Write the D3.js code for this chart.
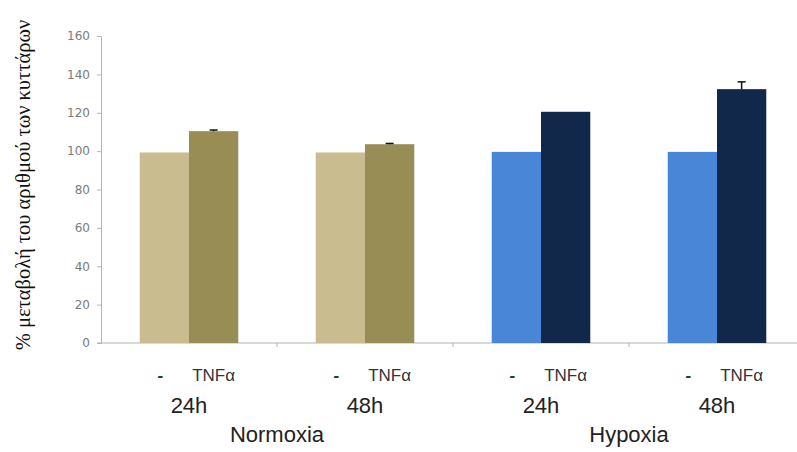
<!DOCTYPE html>
<html>
<head>
<meta charset="utf-8">
<script src="https://cdn.jsdelivr.net/npm/d3@7"></script>
<style>
  body { margin: 0; background: #fff; }
  svg { display: block; }
</style>
</head>
<body>
<svg id="chart" width="797" height="452"></svg>
<script>
// data
var categories = ['N24', 'N48', 'H24', 'H48'];
var timeLabels = ['24h', '48h', '24h', '48h'];
var groupLabels = ['Normoxia', 'Hypoxia'];
var groupOf = [0, 0, 1, 1];
var treatments = ['-', 'TNFα'];
var controlValues = [99.3, 99.3, 99.6, 99.6];
var tnfValues = [110.4, 103.6, 120.5, 132.3];
var tnfErrors = [0.6, 0.4, 0, 3.8];
var yTicks = [0, 20, 40, 60, 80, 100, 120, 140, 160];

var barColors = [
  ['#c9bd8f', '#988e55'],   // normoxia: control, TNFa
  ['#4a86d8', '#12284a']    // hypoxia
];

var svg = d3.select('#chart');

var y = d3.scaleLinear().domain([0, 160]).range([343, 36]);
var x = d3.scaleBand().domain(categories).range([101, 805])
    .paddingInner(0.44).paddingOuter(0.22);
var x1 = d3.scaleBand().domain(treatments).range([0, x.bandwidth()]);

/* y axis */
var yAxis = d3.axisLeft(y).tickValues(yTicks).tickSize(4).tickPadding(7);
var yg = svg.append('g').attr('transform', 'translate(101,0)').call(yAxis);
yg.select('.domain').attr('stroke', '#b4b4b4');
yg.selectAll('.tick line').attr('stroke', '#b4b4b4');
yg.selectAll('.tick text')
    .attr('fill', '#7a7a7a')
    .style('font-family', 'DejaVu Sans')
    .style('font-size', '12px');

/* x axis line + category separators */
svg.append('line')
    .attr('x1', 97).attr('x2', 797)
    .attr('y1', y(0)).attr('y2', y(0))
    .attr('stroke', '#b4b4b4');
svg.selectAll('.sep')
    .data(categories.slice(1)).enter()
    .append('line')
    .attr('x1', function(d) { return x(d) - x.step() * x.paddingInner() / 2; })
    .attr('x2', function(d) { return x(d) - x.step() * x.paddingInner() / 2; })
    .attr('y1', y(0)).attr('y2', y(0) + 4)
    .attr('stroke', '#b4b4b4');

/* bars */
var rows = categories.map(function(c, i) {
  return [
    { cat: c, t: treatments[0], v: controlValues[i], g: groupOf[i], k: 0 },
    { cat: c, t: treatments[1], v: tnfValues[i], g: groupOf[i], k: 1, err: tnfErrors[i] }
  ];
});

var cat = svg.selectAll('.cat')
    .data(rows).enter()
    .append('g')
    .attr('transform', function(d, i) { return 'translate(' + x(categories[i]) + ',0)'; });

cat.selectAll('rect')
    .data(function(d) { return d; }).enter()
    .append('rect')
    .attr('x', function(d) { return x1(d.t); })
    .attr('width', x1.bandwidth())
    .attr('y', function(d) { return y(d.v); })
    .attr('height', function(d) { return y(0) - y(d.v); })
    .attr('fill', function(d) { return barColors[d.g][d.k]; });

// error bars, upper half only
var eb = cat.selectAll('.err')
    .data(function(d) { return d.filter(function(e) { return e.err; }); }).enter()
    .append('g')
    .attr('stroke', '#111')
    .attr('stroke-width', 1.5);
eb.append('line')
    .attr('x1', function(d) { return x1(d.t) + x1.bandwidth() / 2; })
    .attr('x2', function(d) { return x1(d.t) + x1.bandwidth() / 2; })
    .attr('y1', function(d) { return y(d.v); })
    .attr('y2', function(d) { return y(d.v + d.err); });
eb.append('line')
    .attr('x1', function(d) { return x1(d.t) + x1.bandwidth() / 2 - 4; })
    .attr('x2', function(d) { return x1(d.t) + x1.bandwidth() / 2 + 4; })
    .attr('y1', function(d) { return y(d.v + d.err); })
    .attr('y2', function(d) { return y(d.v + d.err); });

/* labels under the axis */
var labelFont = '"Liberation Sans", Arial, sans-serif';
cat.selectAll('.trt')
    .data(function(d) { return d; }).enter()
    .append('text')
    .attr('x', function(d) { return x1(d.t) + x1.bandwidth() / 2 + (d.k == 0 ? -4 : 0); })
    .attr('y', 381)
    .attr('text-anchor', 'middle')
    .attr('fill', '#333')
    .style('font-family', labelFont)
    .style('font-size', '17px')
    .style('font-weight', function(d) { return d.k == 0 ? 'bold' : 'normal'; })
    .text(function(d) { return d.t; });

cat.append('text')
    .attr('x', x.bandwidth() / 2)
    .attr('y', 413)
    .attr('text-anchor', 'middle')
    .attr('fill', '#222')
    .style('font-family', labelFont)
    .style('font-size', '22px')
    .text(function(d, i) { return timeLabels[i]; });

svg.selectAll('.grp')
    .data(groupLabels).enter()
    .append('text')
    .attr('x', function(d, i) {
      var a = categories[i * 2], b = categories[i * 2 + 1];
      return (x(a) + x(b) + x.bandwidth()) / 2;
    })
    .attr('y', 442)
    .attr('text-anchor', 'middle')
    .attr('fill', '#222')
    .style('font-family', labelFont)
    .style('font-size', '22px')
    .text(function(d) { return d; });

/* y title */
svg.append('text')
    .attr('transform', 'translate(30,185) rotate(-90)')
    .attr('text-anchor', 'middle')
    .attr('fill', '#111')
    .style('font-family', '"Liberation Serif", "DejaVu Serif", serif')
    .style('font-size', '20.5px')
    .text('% μεταβολή του αριθμού των κυττάρων');
</script>
</body>
</html>
